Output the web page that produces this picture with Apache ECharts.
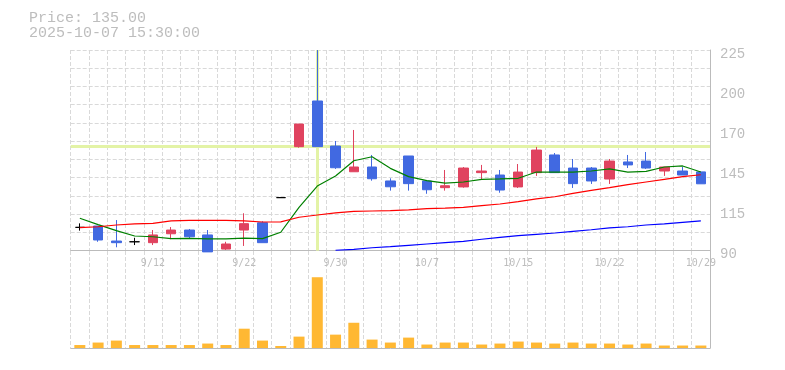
<!DOCTYPE html>
<html>
<head>
<meta charset="utf-8">
<script src="https://cdn.jsdelivr.net/npm/echarts@6/dist/echarts.min.js"></script>
<style>html,body{margin:0;padding:0;background:#fff;}#c{width:785px;height:370px;}</style>
</head>
<body>
<div id="c"></div>
<script>
const headerPrice = 'Price: 135.00';
const headerDate = '2025-10-07 15:30:00';

const categories = ['9/8','9/9','9/10','9/11','9/12','9/16','9/17','9/18','9/19','9/22','9/24','9/25','9/26','9/29','9/30','10/1','10/2','10/3','10/6','10/7','10/8','10/9','10/10','10/14','10/15','10/16','10/17','10/20','10/21','10/22','10/23','10/24','10/27','10/28','10/29'];
const xTickLabels = ['9/12','9/22','9/30','10/7','10/15','10/22','10/29'];
const priceTickLabels = ['90','115','145','170','200','225'];

const opens  = [105.7,106.6,96.5,96.0,95.4,101.4,103.9,100.6,91.1,103.9,108.8,125.7,160.0,190.7,160.4,143.1,146.3,136.9,153.7,136.9,132.4,132.9,142.5,140.9,132.9,142.5,154.4,145.6,145.6,138.2,149.7,150.3,143.6,143.6,143.0];
const closes = [105.7,97.2,95.4,96.0,100.6,103.9,99.4,89.2,94.5,108.2,95.4,125.7,175.2,160.0,145.8,146.3,138.4,133.0,135.1,131.0,133.7,145.6,143.6,130.8,142.9,157.7,142.5,135.1,136.9,150.3,147.7,145.6,146.3,140.9,135.0];
const lows   = [103.5,96.0,92.3,93.8,93.8,97.7,98.3,89.2,90.5,93.2,95.4,125.7,159.3,160.0,145.0,143.1,137.1,130.4,130.4,128.3,130.4,132.4,138.0,129.0,132.2,140.3,142.5,132.2,134.9,134.9,145.6,145.0,140.3,140.9,135.0];
const highs  = [108.4,106.6,110.6,98.7,103.9,105.9,104.6,103.9,96.0,115.2,109.8,125.7,175.2,225.0,163.8,171.2,154.4,138.7,153.7,136.9,144.3,146.3,147.7,144.3,148.3,159.8,155.7,151.7,146.3,151.7,154.4,156.4,146.3,146.3,143.0];

const ma5  = [111.8,107.5,103.5,99.9,99.4,98.1,98.3,97.9,97.9,98.5,98.1,102.4,119.2,133.5,140.3,150.5,153.2,145.4,139.8,137.1,135.5,136.2,138.0,138.3,138.7,142.9,142.9,142.9,143.6,145.0,142.9,143.4,146.3,147.0,142.9];
const ma25 = [105.5,106.1,107.3,108.0,108.4,110.0,110.4,110.4,110.4,110.0,109.3,109.4,112.5,114.0,115.4,116.5,116.7,116.9,117.4,118.3,118.7,119.2,120.3,121.4,123.0,124.8,126.3,128.6,130.6,132.4,134.4,136.2,138.0,139.8,141.1];
const ma75 = [null,null,null,null,null,null,null,null,null,null,null,null,null,null,90.3,90.9,92.0,92.7,93.6,94.5,95.4,96.3,97.7,99.0,100.1,101.0,101.9,103.0,104.1,105.3,106.1,107.3,108.0,109.1,110.0];

const volumes = [30,55,75,30,30,30,30,45,30,195,75,20,115,715,135,255,85,55,105,35,55,55,35,45,65,55,45,55,45,45,35,45,25,25,25];

const crossCategory = '9/29';
const crossPrice = 160;

const priceMin = 90, priceMax = 225;

const chart = echarts.init(document.getElementById('c'), null, {renderer: 'canvas'});

const gridCol = '#d9d9d9';
const axisCol = '#bbbbbb';
const textCol = '#bdbdbd';
const dash = [4, 2];

const ohlc = opens.map((o, i) => [o, closes[i], lows[i], highs[i]]);

chart.setOption({
  animation: false,
  backgroundColor: '#ffffff',
  graphic: [
    {type: 'text', left: 29, top: 11, style: {text: headerPrice, fill: textCol, font: '15px "Liberation Mono"'}},
    {type: 'text', left: 29, top: 25.5, style: {text: headerDate, fill: textCol, font: '15px "Liberation Mono"'}}
  ],
  grid: [
    {left: 70.7, right: 75, top: 50, height: 200.7},
    {left: 70.7, right: 75, top: 251, bottom: 22}
  ],
  xAxis: [
    {
      type: 'category', gridIndex: 0, data: categories, boundaryGap: true,
      axisLine: {show: true, lineStyle: {color: axisCol, width: 1}},
      axisTick: {show: false},
      axisLabel: {
        show: true, interval: (i, v) => xTickLabels.indexOf(v) >= 0,
        color: textCol, fontFamily: 'DejaVu Sans Mono', fontSize: 10, margin: 8
      },
      splitLine: {show: true, interval: 0, lineStyle: {color: gridCol, type: dash, width: 1}}
    },
    {
      type: 'category', gridIndex: 1, data: categories, boundaryGap: true, offset: 2,
      axisLine: {show: true, lineStyle: {color: axisCol, width: 1}},
      axisTick: {show: false},
      axisLabel: {show: false},
      splitLine: {show: true, interval: 0, lineStyle: {color: gridCol, type: dash, width: 1}}
    }
  ],
  yAxis: [
    {type: 'value', gridIndex: 0, min: priceMin, max: priceMax, show: false, scale: true},
    {
      type: 'value', gridIndex: 0, min: 0, max: 11, interval: 1, position: 'right',
      axisLine: {show: false}, axisTick: {show: false}, axisLabel: {show: false},
      splitLine: {show: true, lineStyle: {color: gridCol, type: dash, width: 1}}
    },
    {
      type: 'value', gridIndex: 0, min: 0, max: priceTickLabels.length - 1, interval: 1, position: 'right',
      axisLine: {show: true, lineStyle: {color: axisCol, width: 1}},
      axisTick: {show: false},
      axisLabel: {
        show: true, formatter: (v) => priceTickLabels[Math.round(v)] || '',
        color: textCol, fontFamily: 'Liberation Mono', fontSize: 14, margin: 10,
        verticalAlign: 'top', lineHeight: 8
      },
      splitLine: {show: false}
    },
    {
      type: 'value', gridIndex: 1, min: 0, max: 980, position: 'right',
      axisLine: {show: true, lineStyle: {color: axisCol, width: 1}},
      axisTick: {show: false}, axisLabel: {show: false}, splitLine: {show: false}
    }
  ],
  series: [
    {
      type: 'line', xAxisIndex: 0, yAxisIndex: 0, data: [], z: 1, silent: true,
      markLine: {
        silent: true, symbol: 'none', animation: false, z: 1,
        label: {show: false},
        lineStyle: {color: '#e3f3a6', width: 3, type: 'solid'},
        data: [{xAxis: crossCategory}, {yAxis: crossPrice}]
      }
    },
    {
      type: 'candlestick', xAxisIndex: 0, yAxisIndex: 0, data: ohlc, z: 2,
      barWidth: 10, clip: true,
      itemStyle: {
        color: '#e0435f', color0: '#4169e1',
        borderColor: '#e0435f', borderColor0: '#4169e1',
        borderColorDoji: '#000000', borderWidth: 1
      }
    },
    {type: 'line', xAxisIndex: 0, yAxisIndex: 0, data: ma5, z: 3, symbol: 'none', showSymbol: false,
      lineStyle: {color: '#008000', width: 1.2}},
    {type: 'line', xAxisIndex: 0, yAxisIndex: 0, data: ma25, z: 3, symbol: 'none', showSymbol: false,
      lineStyle: {color: '#ff0000', width: 1.2}},
    {type: 'line', xAxisIndex: 0, yAxisIndex: 0, data: ma75, z: 3, symbol: 'none', showSymbol: false,
      lineStyle: {color: '#0000ff', width: 1.2}, clip: true},
    {type: 'bar', xAxisIndex: 1, yAxisIndex: 3, data: volumes, barWidth: 11,
      itemStyle: {color: '#ffb833'}}
  ]
});
</script>
</body>
</html>
